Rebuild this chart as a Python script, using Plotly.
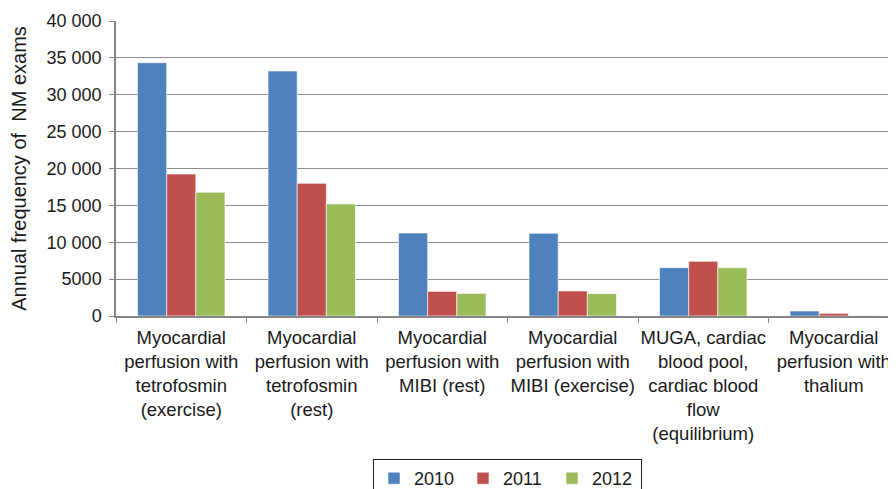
import plotly.graph_objects as go

categories = [
    "Myocardial<br>perfusion with<br>tetrofosmin<br>(exercise)",
    "Myocardial<br>perfusion with<br>tetrofosmin<br>(rest)",
    "Myocardial<br>perfusion with<br>MIBI (rest)",
    "Myocardial<br>perfusion with<br>MIBI (exercise)",
    "MUGA, cardiac<br>blood pool,<br>cardiac blood<br>flow<br>(equilibrium)",
    "Myocardial<br>perfusion with<br>thalium",
]
years = ["2010", "2011", "2012"]
values_2010 = [34350, 33220, 11250, 11210, 6550, 680]
values_2011 = [19250, 17990, 3340, 3390, 7410, 360]
values_2012 = [16770, 15190, 3070, 3030, 6550, 50]
colors = ["#4F81BD", "#C0504D", "#9BBB59"]
tick_vals = [0, 5000, 10000, 15000, 20000, 25000, 30000, 35000, 40000]
tick_text = ["0", "5000", "10 000", "15 000", "20 000", "25 000", "30 000", "35 000", "40 000"]

font = "Liberation Sans, Arial, sans-serif"
fig = go.Figure()
for name, vals, c in zip(years, [values_2010, values_2011, values_2012], colors):
    fig.add_trace(go.Bar(
        x=categories, y=vals, name=name,
        marker=dict(color=c, line=dict(color="rgba(255,255,255,0.6)", width=1)),
    ))

fig.update_layout(
    width=896, height=489,
    margin=dict(l=108, r=5, t=13, b=181, autoexpand=False),
    paper_bgcolor="white", plot_bgcolor="white",
    barmode="group", bargap=0.33, bargroupgap=0,
    font=dict(family=font, size=18, color="#1a1a1a"),
    showlegend=True,
    legend=dict(
        orientation="h", xref="paper", x=0.5, xanchor="center",
        yref="container", y=(489 - 451) / 489, yanchor="top",
        bordercolor="#222", borderwidth=1, font=dict(size=18),
        entrywidth=44, entrywidthmode="pixels",
    ),
    xaxis=dict(
        showline=True, linecolor="#868686", linewidth=1.5,
        ticks="outside", tickson="boundaries", ticklen=5, tickcolor="#868686",
        tickfont=dict(size=18.5), tickangle=0, automargin=False,
        ticklabelstandoff=4,
    ),
    yaxis=dict(
        range=[0, 40000], tickvals=tick_vals, ticktext=tick_text,
        showline=True, linecolor="#868686", linewidth=1.5,
        ticks="outside", ticklen=5, tickcolor="#868686",
        showgrid=True, gridcolor="#8c8c8c", gridwidth=1,
        zeroline=False, tickfont=dict(size=18), automargin=False,
        ticklabelstandoff=4,
        title=dict(text="Annual frequency of  NM exams", font=dict(size=20), standoff=16),
    ),
)
fig.write_html("out.html")
